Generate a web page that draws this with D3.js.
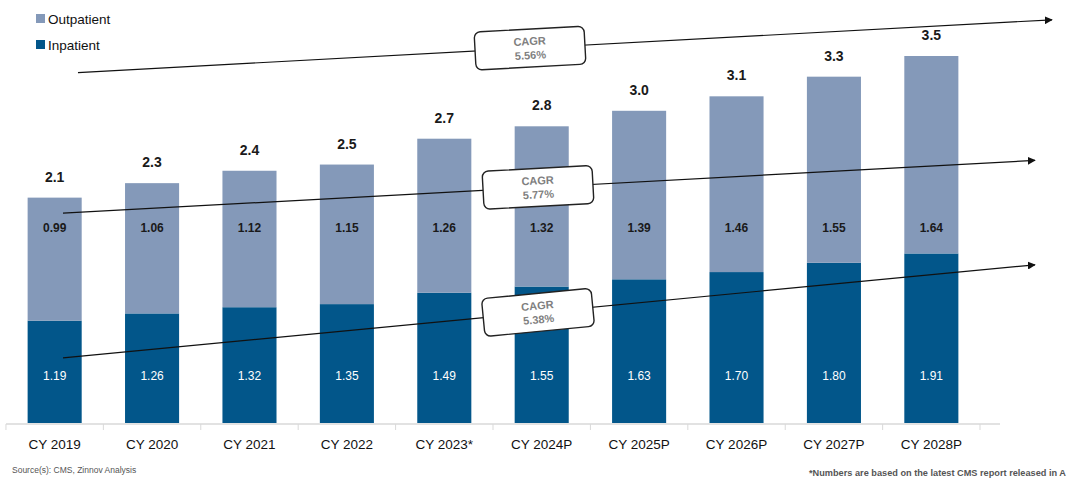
<!DOCTYPE html>
<html>
<head>
<meta charset="utf-8">
<script src="https://cdn.jsdelivr.net/npm/d3@7"></script>
<style>
  body { margin: 0; background: #fff; }
  svg { display: block; font-family: "Liberation Sans", Arial, sans-serif; }
</style>
</head>
<body>
<div id="chart"></div>
<script>
// data
const years = ["CY 2019", "CY 2020", "CY 2021", "CY 2022", "CY 2023*", "CY 2024P", "CY 2025P", "CY 2026P", "CY 2027P", "CY 2028P"];
const inpatient = [1.19, 1.26, 1.32, 1.35, 1.49, 1.55, 1.63, 1.70, 1.80, 1.91];
const outpatient = [0.99, 1.06, 1.12, 1.15, 1.26, 1.32, 1.39, 1.46, 1.55, 1.64];
const totalLabels = ["2.1", "2.3", "2.4", "2.5", "2.7", "2.8", "3.0", "3.1", "3.3", "3.5"];
const cagrText = ["5.56%", "5.77%", "5.38%"];
// trend arrows, in value units: [start, end]
const cagrStart = [3.39, 2.03, 0.63];
const cagrEnd = [3.90, 2.54, 1.53];

const W = 1068, H = 478;
const baseY = 423;
const darkBlue = "#02568a", lightBlue = "#8499b9";

const svg = d3.select("#chart").append("svg")
  .attr("width", W)
  .attr("height", H);

const x = d3.scaleBand().domain(years).range([6, 980]).paddingInner(0.445).paddingOuter(0.222);
const y = d3.scaleLinear().domain([0, 3.55]).range([baseY, 56]);

// note: in the source slide the dark (bottom) segment is drawn with the
// outpatient height and the light one with the inpatient height, labels swapped
const rows = years.map((yr, i) => ({ yr: yr, bottom: outpatient[i], top: inpatient[i], inLbl: inpatient[i], outLbl: outpatient[i], total: totalLabels[i] }));

// axis
const axis = svg.append("g").attr("transform", `translate(0,${baseY + 1})`);
axis.append("line").attr("x1", 6).attr("x2", 1000).attr("stroke", "#d9d9d9").attr("stroke-width", 1.3);
const edges = years.map(d => x(d) - x.step() * x.paddingInner() / 2);
edges.push(980);
axis.selectAll(".tk").data(edges).enter().append("line")
  .attr("x1", d => d).attr("x2", d => d)
  .attr("y1", 0).attr("y2", 6)
  .attr("stroke", "#d9d9d9");
axis.selectAll(".lbl").data(years).enter().append("text")
  .attr("x", d => x(d) + x.bandwidth() / 2)
  .attr("y", 25)
  .attr("text-anchor", "middle")
  .attr("font-size", 13.5)
  .attr("fill", "#111")
  .text(d => d);

// bars
const bars = svg.append("g");
bars.selectAll(".bot").data(rows).enter().append("rect")
  .attr("x", d => x(d.yr))
  .attr("width", x.bandwidth())
  .attr("y", d => y(d.bottom))
  .attr("height", d => y(0) - y(d.bottom))
  .attr("fill", darkBlue);
bars.selectAll(".top").data(rows).enter().append("rect")
  .attr("x", d => x(d.yr))
  .attr("width", x.bandwidth())
  .attr("y", d => y(d.bottom + d.top))
  .attr("height", d => y(d.bottom) - y(d.bottom + d.top))
  .attr("fill", lightBlue);

// segment labels
bars.selectAll(".inl").data(rows).enter().append("text")
  .attr("x", d => x(d.yr) + x.bandwidth() / 2)
  .attr("y", y(0.42))
  .attr("text-anchor", "middle")
  .attr("font-size", 12)
  .attr("fill", "#fff")
  .text(d => d.inLbl.toFixed(2));
bars.selectAll(".outl").data(rows).enter().append("text")
  .attr("x", d => x(d.yr) + x.bandwidth() / 2)
  .attr("y", y(1.85))
  .attr("text-anchor", "middle")
  .attr("font-size", 12)
  .attr("font-weight", "bold")
  .attr("fill", "#1a1a1a")
  .text(d => d.outLbl.toFixed(2));
bars.selectAll(".tot").data(rows).enter().append("text")
  .attr("x", d => x(d.yr) + x.bandwidth() / 2)
  .attr("y", d => y(d.bottom + d.top) - 16)
  .attr("text-anchor", "middle")
  .attr("font-size", 14)
  .attr("font-weight", "bold")
  .attr("fill", "#1a1a1a")
  .text(d => d.total);

// legend
const legend = svg.append("g");
[["Outpatient", lightBlue], ["Inpatient", darkBlue]].forEach((d, i) => {
  legend.append("rect").attr("x", 36).attr("y", 14 + i * 26).attr("width", 9).attr("height", 9).attr("fill", d[1]);
  legend.append("text").attr("x", 48).attr("y", 24 + i * 26).attr("font-size", 13.5).attr("fill", "#111").text(d[0]);
});

// CAGR arrows
svg.append("defs").append("marker")
  .attr("id", "arr")
  .attr("viewBox", "0 0 10 10")
  .attr("refX", 9).attr("refY", 5)
  .attr("markerWidth", 8).attr("markerHeight", 8)
  .attr("markerUnits", "userSpaceOnUse")
  .attr("orient", "auto")
  .append("path").attr("d", "M0,0L10,5L0,10z").attr("fill", "#111");

const x0 = [78, 63, 63], x1 = [1052, 1035, 1035];
const boxCx = [530, 538, 538];
cagrText.forEach((t, i) => {
  const ya = y(cagrStart[i]), yb = y(cagrEnd[i]);
  svg.append("line")
    .attr("x1", x0[i]).attr("y1", ya)
    .attr("x2", x1[i]).attr("y2", yb)
    .attr("stroke", "#111").attr("stroke-width", 1.2)
    .attr("marker-end", "url(#arr)");
  const cy = ya + (yb - ya) * (boxCx[i] - x0[i]) / (x1[i] - x0[i]);
  const ang = Math.atan2(yb - ya, x1[i] - x0[i]) * 180 / Math.PI;
  const g = svg.append("g").attr("transform", `translate(${boxCx[i]},${cy}) rotate(${ang})`);
  g.append("rect").attr("x", -55).attr("y", -19).attr("width", 110).attr("height", 38)
    .attr("rx", 6).attr("fill", "#fff").attr("stroke", "#222").attr("stroke-width", 1.4);
  g.append("text").attr("y", -3).attr("text-anchor", "middle").attr("font-size", 11).attr("font-weight", "bold").attr("fill", "#7f7f7f").text("CAGR");
  g.append("text").attr("y", 11).attr("text-anchor", "middle").attr("font-size", 11).attr("font-weight", "bold").attr("fill", "#7f7f7f").text(t);
});

// footnotes
svg.append("text").attr("x", 12).attr("y", 473).attr("font-size", 8.5).attr("fill", "#555").text("Source(s): CMS, Zinnov Analysis");
svg.append("text").attr("x", 1066).attr("y", 476).attr("text-anchor", "end").attr("font-size", 9.2).attr("font-weight", "bold").attr("fill", "#555").text("*Numbers are based on the latest CMS report released in A");
</script>
</body>
</html>
